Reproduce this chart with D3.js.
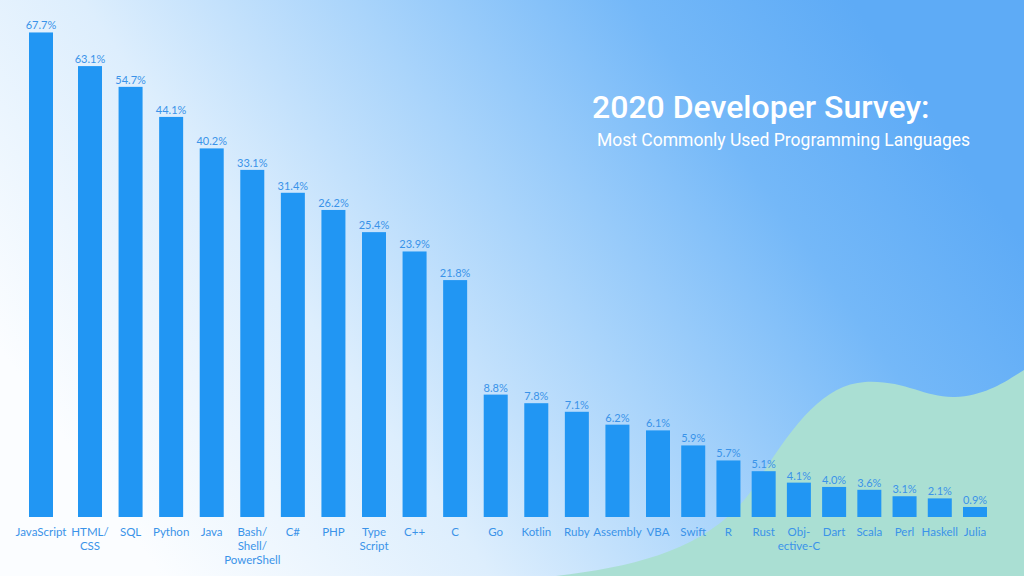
<!DOCTYPE html>
<html>
<head>
<meta charset="utf-8">
<script src="https://cdn.jsdelivr.net/npm/d3@7"></script>
<style>
  html, body { margin: 0; padding: 0; background: #fff; }
  svg { display: block; }
</style>
</head>
<body>
<script>
var languages = ["JavaScript", "HTML/\nCSS", "SQL", "Python", "Java", "Bash/\nShell/\nPowerShell", "C#", "PHP",
	"Type\nScript", "C++", "C", "Go", "Kotlin", "Ruby", "Assembly", "VBA", "Swift", "R", "Rust",
	"Obj-\nective-C", "Dart", "Scala", "Perl", "Haskell", "Julia"];

// percentages printed on the poster
var shares = ["67.7%", "63.1%", "54.7%", "44.1%", "40.2%", "33.1%", "31.4%", "26.2%", "25.4%", "23.9%", "21.8%",
	"8.8%", "7.8%", "7.1%", "6.2%", "6.1%", "5.9%", "5.7%", "5.1%", "4.1%", "4.0%", "3.6%", "3.1%", "2.1%", "0.9%"];

// bar lengths as drawn (the poster does not draw them to scale), read off on the 67.7 bar's scale
var barValues = [67.7, 63.0, 60.1, 55.9, 51.5, 48.5, 45.3, 42.9, 39.8, 37.1, 33.1,
	17.1, 15.9, 14.7, 12.9, 12.1, 10.0, 7.9, 6.4, 4.8, 4.2, 3.8, 2.9, 2.6, 1.4];

var title = "2020 Developer Survey:";
var subtitle = "Most Commonly Used Programming Languages";

var W = 1024, H = 576;
var baseline = 517, barWidth = 24;

var svg = d3.select("body").append("svg")
	.attr("width", W)
	.attr("height", H);

// background
var defs = svg.append("defs");
var grad = defs.append("linearGradient")
	.attr("id", "bg")
	.attr("gradientUnits", "userSpaceOnUse")
	.attr("x1", 150).attr("y1", 560)
	.attr("x2", 880).attr("y2", 40);
grad.append("stop").attr("offset", "0").attr("stop-color", "#fbfdff");
grad.append("stop").attr("offset", "0.3").attr("stop-color", "#ddeefd");
grad.append("stop").attr("offset", "0.55").attr("stop-color", "#a9d4fb");
grad.append("stop").attr("offset", "0.8").attr("stop-color", "#74b8f8");
grad.append("stop").attr("offset", "1").attr("stop-color", "#5eabf6");

svg.append("rect")
	.attr("width", W).attr("height", H)
	.attr("fill", "url(#bg)");

// mint wave bottom right
svg.append("path")
	.attr("d", "M556,576 C640,566 710,548 752,490 C790,430 820,385 865,382 C905,380 925,398 955,397 C985,396 1005,382 1024,370 L1024,576 Z")
	.attr("fill", "#aadfd3");

// the poster spaces its bars unevenly: wider after JavaScript, tighter from VBA on
var x = d3.scaleLinear()
	.domain([0, 1, 15, 24])
	.range([29, 78, 646, 963]);

var y = d3.scaleLinear()
	.domain([0, 70])
	.range([baseline, 16]);

var g = svg.append("g");

g.selectAll("rect.bar")
	.data(barValues)
	.enter().append("rect")
		.attr("class", "bar")
		.attr("x", function(d, i) { return x(i); })
		.attr("y", function(d) { return y(d); })
		.attr("width", barWidth)
		.attr("height", function(d) { return y(0) - y(d); })
		.attr("fill", "#2196f3");

// value labels
g.selectAll("text.val")
	.data(barValues)
	.enter().append("text")
		.attr("class", "val")
		.attr("x", function(d, i) { return x(i) + barWidth / 2; })
		.attr("y", function(d) { return y(d) - 3; })
		.attr("text-anchor", "middle")
		.attr("font-family", "Lato, 'Noto Sans', sans-serif")
		.attr("font-size", 11)
		.attr("fill", "#3a93e9")
		.text(function(d, i) { return shares[i]; });

// category labels
var cat = g.selectAll("text.cat")
	.data(languages)
	.enter().append("text")
		.attr("class", "cat")
		.attr("x", function(d, i) { return x(i) + barWidth / 2; })
		.attr("y", y(0) + 19)
		.attr("text-anchor", "middle")
		.attr("font-family", "Lato, 'Noto Sans', sans-serif")
		.attr("font-size", 11.5)
		.attr("fill", "#3a93e9");

cat.each(function(d, i) {
	var t = d3.select(this);
	d.split("\n").forEach(function(line, k) {
		t.append("tspan")
			.attr("x", x(i) + barWidth / 2)
			.attr("dy", k === 0 ? 0 : 14)
			.text(line);
	});
});

// title
svg.append("text")
	.attr("x", 592)
	.attr("y", 118)
	.attr("font-family", "Roboto, sans-serif")
	.attr("font-weight", 500)
	.attr("font-size", 32)
	.attr("fill", "#ffffff")
	.text(title);

svg.append("text")
	.attr("x", 597)
	.attr("y", 146)
	.attr("font-family", "Roboto, sans-serif")
	.attr("font-size", 17.5)
	.attr("fill", "#ffffff")
	.text(subtitle);
</script>
</body>
</html>
